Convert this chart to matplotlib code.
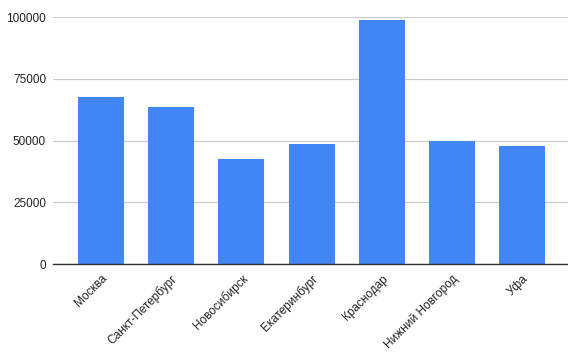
import matplotlib.pyplot as plt
import numpy as np

cities = ["Москва", "Санкт-Петербург", "Новосибирск", "Екатеринбург",
          "Краснодар", "Нижний Новгород", "Уфа"]
values = [67500, 63500, 42500, 48600, 98800, 49700, 47800]
y_ticks = [0, 25000, 50000, 75000, 100000]

plt.rcParams["font.family"] = ["Liberation Sans", "DejaVu Sans"]

fig = plt.figure(figsize=(5.68, 3.59), dpi=100)
ax = fig.add_axes([0.0933, 0.2638, 0.9067, 0.6888])

x = np.arange(len(cities))
ax.bar(x, values, width=0.655, color="#4285F4", zorder=3)

ax.set_ylim(0, 100000)
ax.set_xlim(-0.68, 6.65)
ax.set_yticks(y_ticks)
ax.set_yticklabels([str(v) for v in y_ticks], fontsize=8.5, color="#222222")
ax.set_xticks(x)
ax.set_xticklabels(cities, rotation=45, ha="right", rotation_mode="anchor",
                   fontsize=8.5, color="#222222")

ax.grid(axis="y", color="#cccccc", linewidth=0.9, zorder=0)
for s in ["top", "right", "left"]:
    ax.spines[s].set_visible(False)
ax.spines["bottom"].set_color("#333333")
ax.spines["bottom"].set_linewidth(1.0)
ax.spines["bottom"].set_zorder(4)
ax.tick_params(axis="both", length=0, pad=5)
ax.tick_params(axis="x", pad=6)

fig.savefig("out.png", dpi=100)
